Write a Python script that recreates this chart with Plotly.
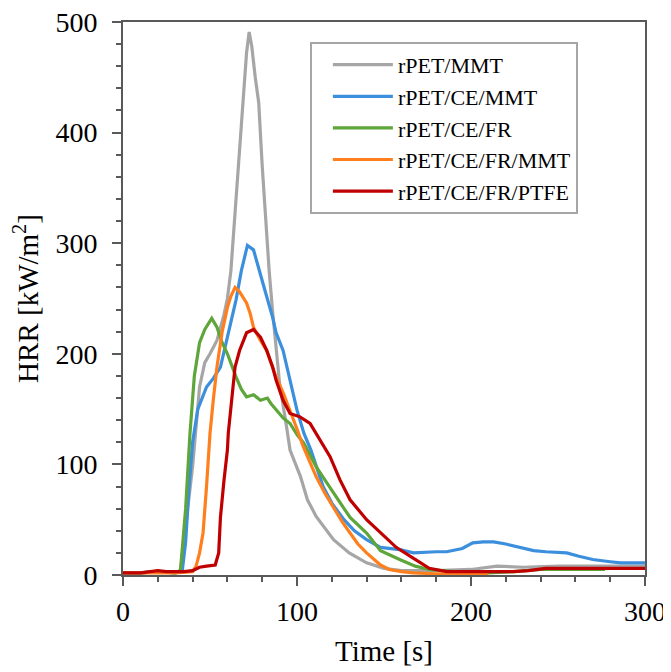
import plotly.graph_objects as go

# rPET/MMT
t_mmt = [0, 10, 20, 30, 33, 36, 40, 44, 47, 50, 54, 58, 60, 62, 65, 68, 71, 72.5, 74, 76, 77, 78, 80, 82, 84, 86, 88, 90,
         94, 96, 102, 106, 111, 121, 130, 140, 150, 160, 180, 200, 215, 230, 250, 270, 300]
hrr_mmt = [2, 2, 3, 2, 4, 45, 98, 170, 192, 200, 212, 235, 250, 275, 340, 410, 472, 491, 478, 450, 440, 427, 370, 320,
           275, 238, 205, 173, 134, 113, 89, 68, 53, 32, 20, 11, 6, 4, 4, 5, 8, 7, 8, 8, 8]

# rPET/CE/MMT
t_ce_mmt = [0, 10, 20, 30, 34, 36, 38, 40, 43, 46, 48, 52, 56, 60, 65, 68, 71.5, 75, 79, 82, 86, 88, 92, 96, 100, 104,
            108, 115, 120, 127, 133, 140, 148, 159, 167, 180, 186, 195, 201, 207, 213, 220, 228, 236, 243, 255, 262,
            270, 280, 286, 300]
hrr_ce_mmt = [2, 2, 3, 2, 3, 30, 80, 120, 150, 163, 170, 178, 188, 215, 249, 275, 298, 294, 273, 255, 233, 219, 203,
              175, 149, 128, 113, 80, 65, 50, 40, 32, 25, 23, 20, 21, 21, 24, 29, 30, 30, 28, 25, 22, 21, 20, 17, 14,
              12, 11, 11]

# rPET/CE/FR
t_ce_fr = [0, 10, 20, 30, 33, 36, 38.5, 41, 44, 47, 51, 54, 57, 60, 65, 68, 71, 75, 79, 83, 85, 88, 92, 96, 100, 104,
           111, 116, 121, 126, 130.5, 140, 148, 159, 168, 176, 190, 210, 225, 240, 255, 270, 277]
hrr_ce_fr = [2, 2, 3, 2, 4, 60, 128, 180, 210, 222, 232, 224, 210, 200, 179, 168, 161, 163, 158, 160, 155, 149, 142,
             137, 127, 119, 98, 86, 74, 62, 52, 38, 22, 14, 8, 5, 3, 2, 3, 5, 5, 5, 5]

# rPET/CE/FR/MMT
t_ce_fr_mmt = [0, 10, 20, 30, 40, 42, 44, 46, 48, 50, 52, 54, 57, 60, 62, 64.4, 67, 69, 71, 73, 75, 79, 82.6, 85, 88,
               92, 96, 100, 103.6, 107, 111, 116, 121, 126, 130.5, 135, 140, 148, 153, 160, 167, 180, 195, 210]
hrr_ce_fr_mmt = [2, 2, 2, 2, 3, 8, 20, 38, 80, 128, 160, 188, 220, 242, 252, 260, 256, 251, 246, 237, 224, 212, 203,
                 192, 179, 165, 149, 132, 116, 103, 89, 74, 61, 48, 38, 28, 20, 9, 5, 3, 2, 1, 1, 1]

# rPET/CE/FR/PTFE
t_ce_fr_ptfe = [0, 10, 20, 25, 30, 35, 40, 44, 48, 53, 55, 56, 58, 60, 60.5, 62.5, 64.4, 67, 71, 75, 79, 82.6, 86, 88,
                92, 96, 101.7, 107.5, 113, 119, 124.7, 130.5, 140, 148, 157, 167, 176, 186, 195, 205, 215, 224, 233,
                243, 255, 270, 285, 300]
hrr_ce_fr_ptfe = [2, 2, 4, 3, 3, 3, 4, 7, 8, 9, 20, 52, 85, 113, 128, 158, 188, 203, 219, 222, 215, 203, 188, 176,
                  158, 146, 143, 137, 122, 107, 86, 68, 50, 38, 25, 15, 6, 3, 3, 3, 3, 3, 4, 6, 6, 6, 6, 6]

series = [
    ('rPET/MMT', t_mmt, hrr_mmt, '#a6a6a6'),
    ('rPET/CE/MMT', t_ce_mmt, hrr_ce_mmt, '#3b8fdc'),
    ('rPET/CE/FR', t_ce_fr, hrr_ce_fr, '#5ea53a'),
    ('rPET/CE/FR/MMT', t_ce_fr_mmt, hrr_ce_fr_mmt, '#ff7f1e'),
    ('rPET/CE/FR/PTFE', t_ce_fr_ptfe, hrr_ce_fr_ptfe, '#c00000'),
]

fig = go.Figure()
for nome, t, v, cor in series:
    fig.add_trace(go.Scatter(x=t, y=v, mode='lines', name=nome,
                             line=dict(color=cor, width=3.2)))

serif = 'Liberation Serif, Times New Roman, serif'
eixo = dict(showgrid=False, zeroline=False, showline=True, linecolor='#595959', linewidth=2,
            mirror=True, ticks='outside', tickcolor='#595959', tickwidth=2, ticklen=9,
            automargin=False, ticklabeloverflow='allow',
            tickfont=dict(family=serif, size=28, color='black'))

fig.update_xaxes(range=[0, 300], dtick=100, ticklabelstandoff=1,
                 minor=dict(ticks='outside', dtick=20, ticklen=5, tickcolor='#595959', tickwidth=2),
                 title=dict(text='Time [s]', font=dict(family=serif, size=29, color='black'), standoff=15),
                 **eixo)
fig.update_yaxes(range=[0, 500], dtick=100, ticklabelstandoff=9,
                 minor=dict(ticks='outside', dtick=20, ticklen=5, tickcolor='#595959', tickwidth=2),
                 title=dict(text='HRR [kW/m<sup>2</sup>]', font=dict(family=serif, size=29, color='black'),
                            standoff=19),
                 **eixo)

# a página tem margem de 8px no body, por isso a figura fica 8px menor
fig.update_layout(
    width=663, height=664,
    margin=dict(l=115, r=26, t=14, b=97),
    plot_bgcolor='white', paper_bgcolor='white',
    legend=dict(x=0.358, y=0.964, xanchor='left', yanchor='top',
                bordercolor='#a6a6a6', borderwidth=2, bgcolor='white',
                font=dict(family=serif, size=22, color='black'),
                itemwidth=60, indentation=16, tracegroupgap=0),
)

fig.write_html('out.html')
